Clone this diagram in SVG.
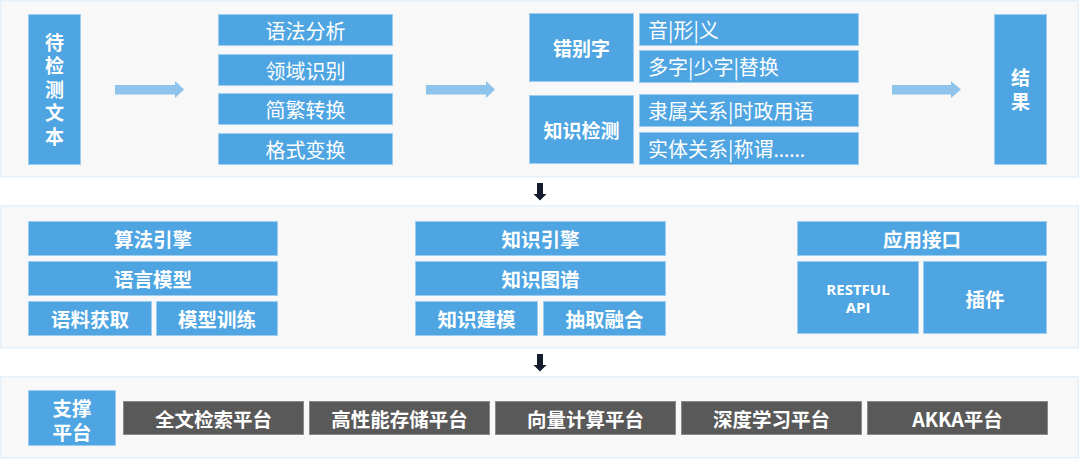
<svg xmlns="http://www.w3.org/2000/svg" width="1080" height="460" viewBox="0 0 1080 460">
<style>
.panel{fill:#f8f8f8;stroke:#e6f0f9;stroke-width:1.5}
.b{fill:#4ea5e2;stroke:#9fcdf0;stroke-width:1}
.d{fill:#595959;stroke:#8a8a8a;stroke-width:1}
text{font-family:"Noto Sans CJK SC","Noto Sans",sans-serif;fill:#ffffff;dominant-baseline:central}
.r{font-size:20px;font-weight:400}
.bd{font-size:19px;font-weight:700}
.m{font-size:19.5px;font-weight:700;text-anchor:middle}
.c{text-anchor:middle}
.v{writing-mode:vertical-rl;text-anchor:middle;letter-spacing:4.5px}
.api{font-family:"Open Sans","Noto Sans",sans-serif;font-size:15px;font-weight:700;text-anchor:middle}
.la{fill:#8ec4ec}
.da{fill:#141c2e}
</style>
<rect class="panel" x="0.75" y="0.75" width="1077.5" height="176"/>
<rect class="panel" x="0.75" y="205.75" width="1077.5" height="142"/>
<rect class="panel" x="0.75" y="376.75" width="1077.5" height="81"/>
<g id="connectors">
<polygon class="la" points="115,85 175,85 175,81 184,89.5 175,98 175,94.5 115,94.5"/>
<polygon class="la" points="426,85 486,85 486,81 495,89.5 486,98 486,94.5 426,94.5"/>
<polygon class="la" points="892,85 951,85 951,81 961,89.5 951,98 951,94.5 892,94.5"/>
<polygon class="da" points="537,183 543,183 543,194 546.5,194 540,200.5 533.5,194 537,194"/>
<polygon class="da" points="537,354 543,354 543,365 546.5,365 540,371.5 533.5,365 537,365"/>
</g>
<g id="n-input"><rect class="b" x="28.5" y="14.5" width="52" height="150"/>
<text class="bd v" x="54.5" y="92">待检测文本</text></g>
<g id="n-yufa"><rect class="b" x="218.5" y="14.5" width="174" height="31"/><text class="r c" x="305.5" y="30">语法分析</text></g>
<g id="n-lingyu"><rect class="b" x="218.5" y="54.5" width="174" height="31"/><text class="r c" x="305.5" y="70">领域识别</text></g>
<g id="n-jianfan"><rect class="b" x="218.5" y="93.5" width="174" height="31"/><text class="r c" x="305.5" y="109">简繁转换</text></g>
<g id="n-geshi"><rect class="b" x="218.5" y="133.5" width="174" height="31"/><text class="r c" x="305.5" y="149">格式变换</text></g>
<g id="n-cuobie"><rect class="b" x="529.5" y="13.5" width="104" height="68"/><text class="bd c" x="581.5" y="47.5">错别字</text></g>
<g id="n-zhishi"><rect class="b" x="529.5" y="95.5" width="104" height="68"/><text class="bd c" x="581.5" y="129.5">知识检测</text></g>
<g id="n-yin"><rect class="b" x="639.5" y="13.5" width="219" height="32"/><text class="r" x="648" y="29.5">音|形|义</text></g>
<g id="n-duozi"><rect class="b" x="639.5" y="50.5" width="219" height="32"/><text class="r" x="648" y="66.5">多字|少字|替换</text></g>
<g id="n-lishu"><rect class="b" x="639.5" y="94.5" width="219" height="32"/><text class="r" x="648" y="110.5">隶属关系|时政用语</text></g>
<g id="n-shiti"><rect class="b" x="639.5" y="132.5" width="219" height="32"/><text class="r" x="648" y="148.5">实体关系|称谓<tspan style="font-family:'Noto Sans',sans-serif">……</tspan></text></g>
<g id="n-result"><rect class="b" x="994.5" y="14.5" width="52" height="150"/><text class="bd v" x="1020.5" y="92">结果</text></g>
<g id="n-suanfa"><rect class="b" x="28.5" y="221.5" width="249" height="34"/><text class="m" x="153" y="238.5">算法引擎</text></g>
<g id="n-yuyan"><rect class="b" x="28.5" y="261.5" width="249" height="34"/><text class="m" x="153" y="278.5">语言模型</text></g>
<g id="n-yuliao"><rect class="b" x="28.5" y="301.5" width="123" height="34"/><text class="m" x="90" y="318.5">语料获取</text></g>
<g id="n-xunlian"><rect class="b" x="156.5" y="301.5" width="121" height="34"/><text class="m" x="217" y="318.5">模型训练</text></g>
<g id="n-zsyq"><rect class="b" x="415.5" y="221.5" width="250" height="34"/><text class="m" x="540.5" y="238.5">知识引擎</text></g>
<g id="n-zstp"><rect class="b" x="415.5" y="261.5" width="250" height="34"/><text class="m" x="540.5" y="278.5">知识图谱</text></g>
<g id="n-zsjm"><rect class="b" x="415.5" y="301.5" width="122" height="34"/><text class="m" x="476.5" y="318.5">知识建模</text></g>
<g id="n-cqrh"><rect class="b" x="543.5" y="301.5" width="122" height="34"/><text class="m" x="604.5" y="318.5">抽取融合</text></g>
<g id="n-yyjk"><rect class="b" x="797.5" y="221.5" width="249" height="34"/><text class="m" x="922" y="238.5">应用接口</text></g>
<g id="n-rest"><rect class="b" x="797.5" y="261.5" width="121" height="72"/><text class="api" x="858" y="289">RESTFUL<tspan x="858" dy="18">API</tspan></text></g>
<g id="n-chajian"><rect class="b" x="923.5" y="261.5" width="123" height="72"/><text class="m" x="985" y="298">插件</text></g>
<g id="n-zhicheng"><rect class="b" x="28.5" y="390.5" width="87" height="55"/><text class="m" x="72" y="407.5">支撑<tspan x="72" dy="23.5">平台</tspan></text></g>
<g id="n-quanwen"><rect class="d" x="123.5" y="401.5" width="180" height="33"/><text class="m" x="213.5" y="418">全文检索平台</text></g>
<g id="n-gaoxing"><rect class="d" x="309.5" y="401.5" width="180" height="33"/><text class="m" x="399.5" y="418">高性能存储平台</text></g>
<g id="n-xiangliang"><rect class="d" x="495.5" y="401.5" width="180" height="33"/><text class="m" x="585.5" y="418">向量计算平台</text></g>
<g id="n-shendu"><rect class="d" x="681.5" y="401.5" width="180" height="33"/><text class="m" x="771.5" y="418">深度学习平台</text></g>
<g id="n-akka"><rect class="d" x="867.5" y="401.5" width="180" height="33"/><text class="m" x="957.5" y="418">AKKA平台</text></g>
</svg>
